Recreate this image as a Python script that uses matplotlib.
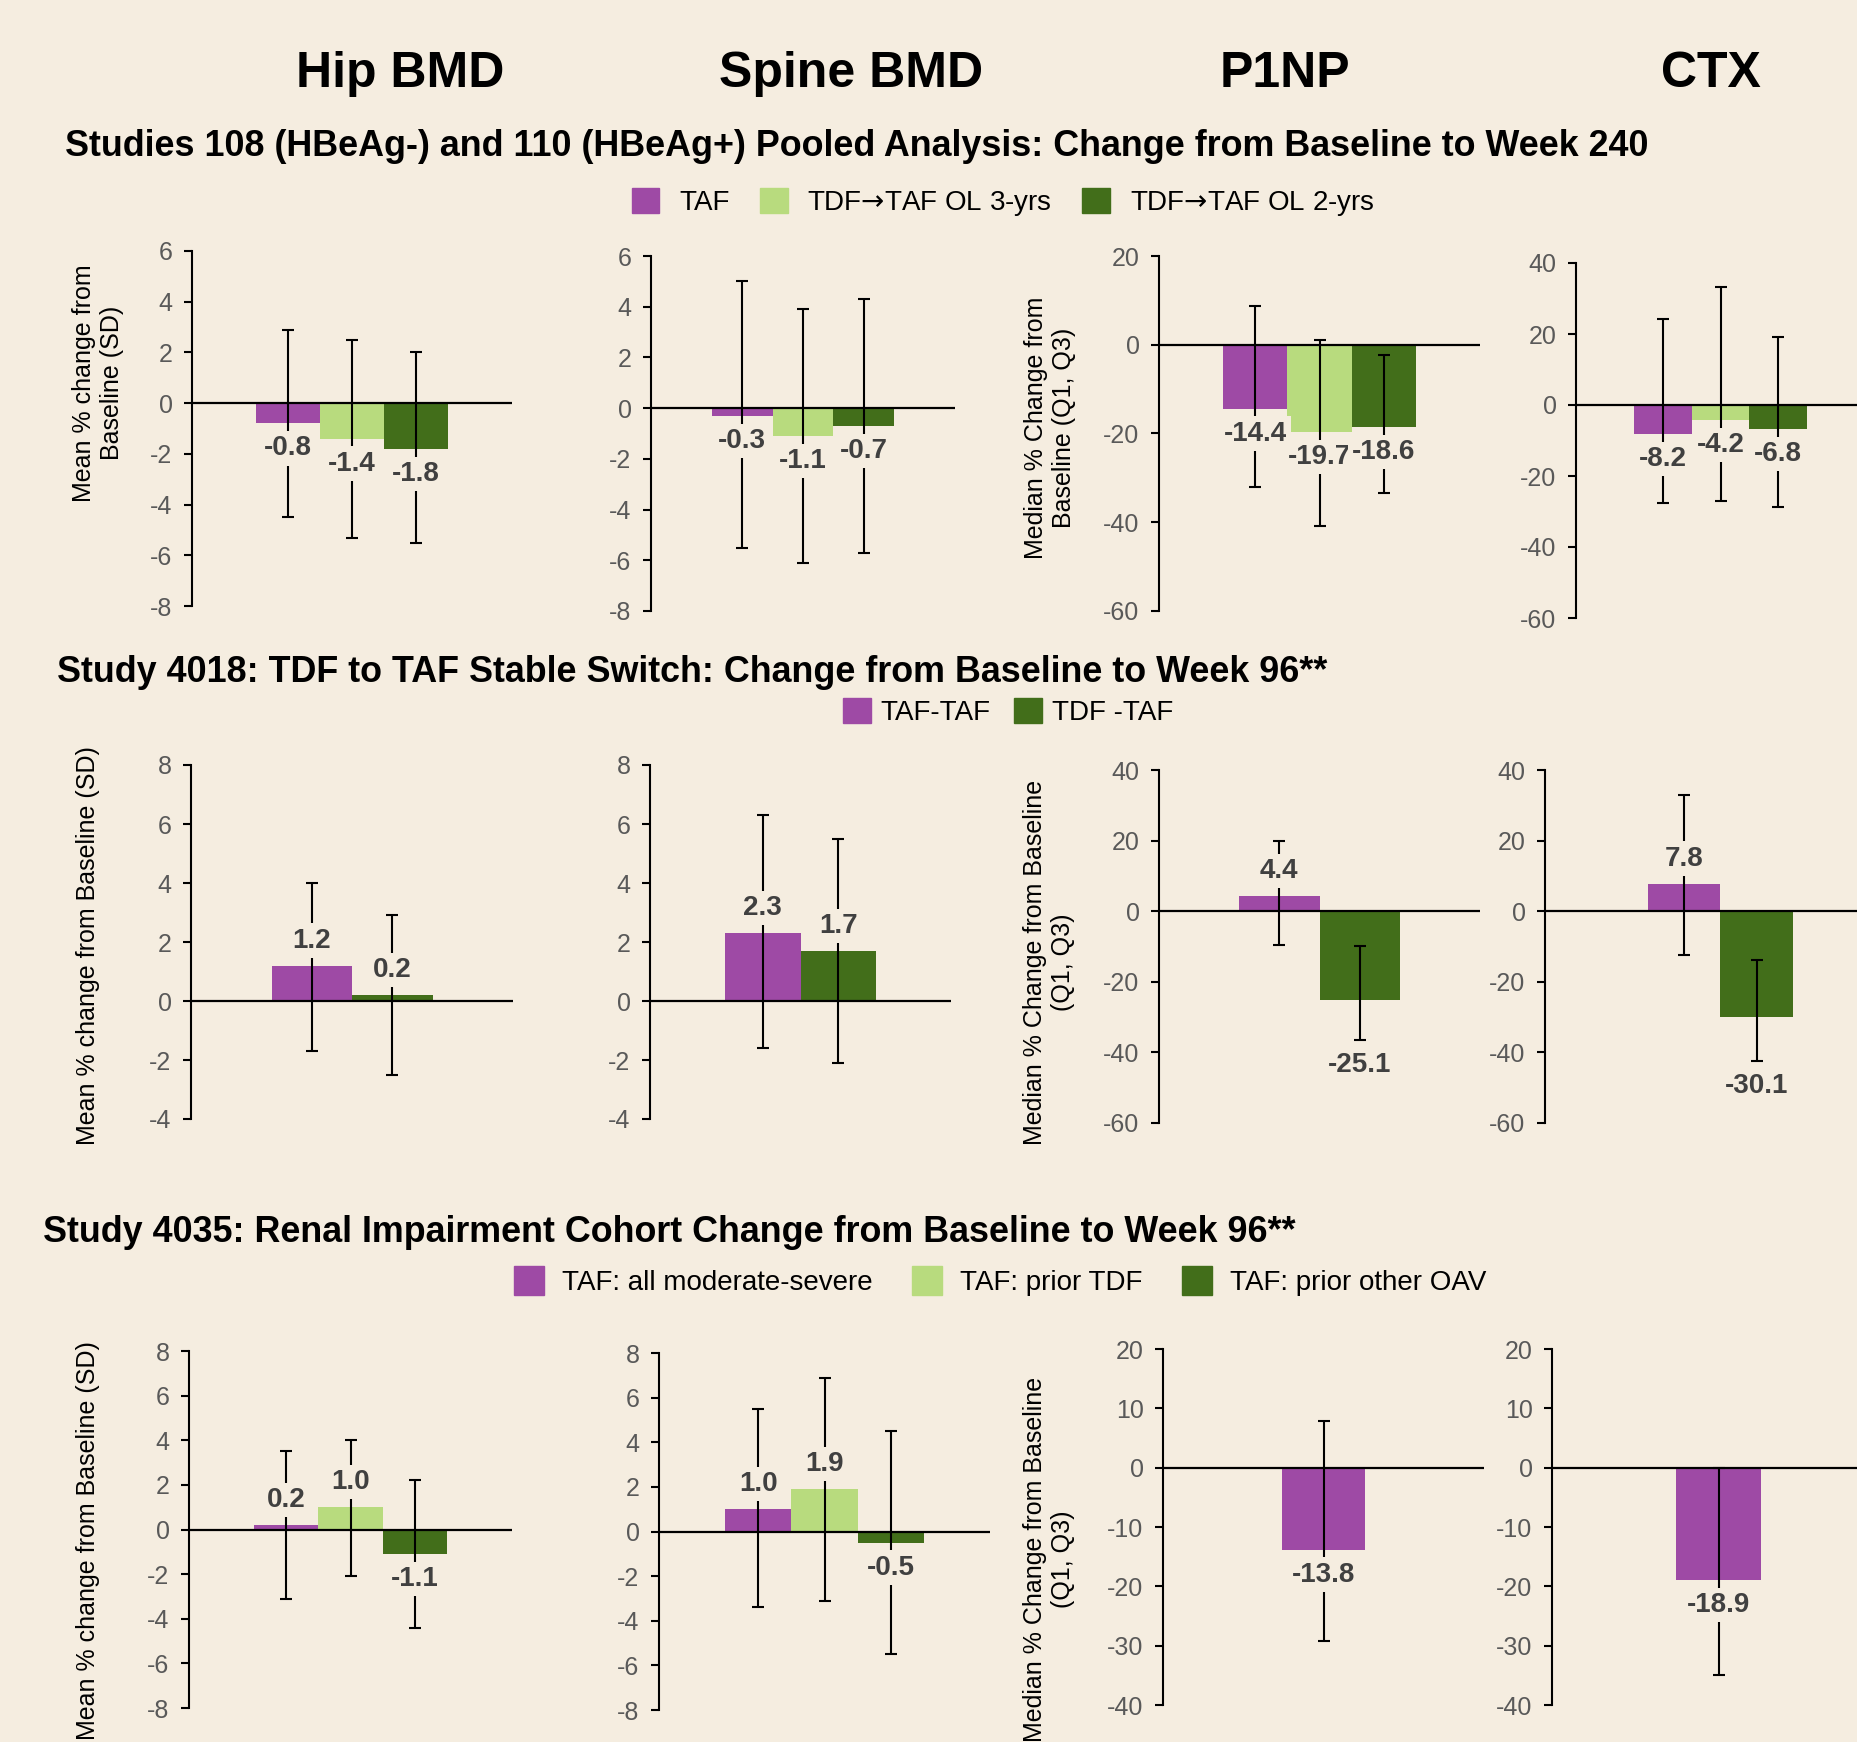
import numpy as np
import matplotlib.pyplot as plt
from matplotlib.patches import Patch

plt.rcParams['font.family'] = ['Liberation Sans', 'DejaVu Sans']
plt.rcParams['axes.unicode_minus'] = False
plt.rcParams['mathtext.fontset'] = 'dejavusans'

W, H = 1857, 1742
bg = '#F5EDE0'
purple = '#9E4AA5'
light = '#B8DB7E'
dark = '#426E1A'

headers = ['Hip BMD', 'Spine BMD', 'P1NP', 'CTX']
titles = ['Studies 108 (HBeAg-) and 110 (HBeAg+) Pooled Analysis: Change from Baseline to Week 240',
          'Study 4018: TDF to TAF Stable Switch: Change from Baseline to Week 96**',
          'Study 4035: Renal Impairment Cohort Change from Baseline to Week 96**']

# row 1: studies 108/110, week 240
groups1 = ['TAF', 'TDF$\u2192$TAF OL 3-yrs', 'TDF$\u2192$TAF OL 2-yrs']
hip1 = [-0.8, -1.4, -1.8]
hip1_lo = [-4.5, -5.3, -5.5]
hip1_hi = [2.9, 2.5, 2.0]
spine1 = [-0.3, -1.1, -0.7]
spine1_lo = [-5.5, -6.1, -5.7]
spine1_hi = [5.0, 3.9, 4.3]
p1np1 = [-14.4, -19.7, -18.6]
p1np1_lo = [-32.0, -40.8, -33.3]
p1np1_hi = [8.8, 1.1, -2.3]
ctx1 = [-8.2, -4.2, -6.8]
ctx1_lo = [-27.7, -27.0, -28.7]
ctx1_hi = [24.3, 33.2, 19.1]

# row 2: study 4018, week 96
groups2 = ['TAF-TAF', 'TDF -TAF']
hip2 = [1.2, 0.2]
hip2_lo = [-1.7, -2.5]
hip2_hi = [4.0, 2.9]
spine2 = [2.3, 1.7]
spine2_lo = [-1.6, -2.1]
spine2_hi = [6.3, 5.5]
p1np2 = [4.4, -25.1]
p1np2_lo = [-9.6, -36.4]
p1np2_hi = [19.8, -9.8]
ctx2 = [7.8, -30.1]
ctx2_lo = [-12.4, -42.5]
ctx2_hi = [32.8, -13.7]

# row 3: study 4035, week 96
groups3 = ['TAF: all moderate-severe', 'TAF: prior TDF', 'TAF: prior other OAV']
hip3 = [0.2, 1.0, -1.1]
hip3_lo = [-3.1, -2.1, -4.4]
hip3_hi = [3.5, 4.0, 2.2]
spine3 = [1.0, 1.9, -0.5]
spine3_lo = [-3.4, -3.1, -5.5]
spine3_hi = [5.5, 6.9, 4.5]
p1np3 = [-13.8]
p1np3_lo = [-29.2]
p1np3_hi = [7.9]
ctx3 = [-18.9]
ctx3_lo = [-34.9]
ctx3_hi = [0.0]

ticks_bmd1 = [-8, -6, -4, -2, 0, 2, 4, 6]
ticks_p1np1 = [-60, -40, -20, 0, 20]
ticks_ctx1 = [-60, -40, -20, 0, 20, 40]
ticks_bmd2 = [-4, -2, 0, 2, 4, 6, 8]
ticks_bio2 = [-60, -40, -20, 0, 20, 40]
ticks_bmd3 = [-8, -6, -4, -2, 0, 2, 4, 6, 8]
ticks_bio3 = [-40, -30, -20, -10, 0, 10, 20]

fig = plt.figure(figsize=(W / 100, H / 100), dpi=100)
fig.patch.set_facecolor(bg)


def fx(x):
    return x / W


def fy(y):
    return 1 - y / H


def panel(rect, xlim, vals, lo, hi, cols, ticks, below_err=False):
    x0, x1, yt, yb = rect
    ax = fig.add_axes([fx(x0), fy(yb), (x1 - x0) / W, (yb - yt) / H])
    ax.set_facecolor('none')
    v = np.array(vals)
    lo = np.array(lo)
    hi = np.array(hi)
    xs = np.arange(len(v)) - (len(v) - 1) / 2
    ax.bar(xs, v, width=1.0, color=cols[:len(v)], zorder=2)
    ax.axhline(0, color='black', lw=1.6, zorder=3)
    ax.errorbar(xs, v, yerr=[v - lo, hi - v], fmt='none', ecolor='black',
                elinewidth=1.5, capsize=4, capthick=1.5, zorder=4)
    for x, val, l in zip(xs, v, lo):
        anchor = l if (below_err and val < 0) else val
        dy = 18 if val >= 0 else -18
        ax.annotate(f'{val:.1f}', (x, anchor), xytext=(0, dy), textcoords='offset points',
                    ha='center', va='center', fontsize=20, fontweight='bold', color='#404040',
                    bbox=dict(boxstyle='square,pad=0.15', fc=bg, ec='none'), zorder=5)
    ax.set_xlim(xlim)
    ax.set_ylim(ticks[0], ticks[-1])
    ax.set_yticks(ticks)
    ax.set_xticks([])
    for s in ['top', 'right', 'bottom']:
        ax.spines[s].set_visible(False)
    ax.spines['left'].set_linewidth(1.5)
    ax.tick_params(axis='y', direction='out', length=6, width=1.5, labelsize=18,
                   labelcolor='#595959', pad=8)
    return ax


c3 = [purple, light, dark]
c2 = [purple, dark]

# row 1
panel((192, 512, 251, 606), (-2.5, 2.5), hip1, hip1_lo, hip1_hi, c3, ticks_bmd1)
panel((651, 955, 256, 611), (-2.5, 2.5), spine1, spine1_lo, spine1_hi, c3, ticks_bmd1)
panel((1159, 1480, 256, 611), (-2.5, 2.5), p1np1, p1np1_lo, p1np1_hi, c3, ticks_p1np1)
panel((1576, 1865, 263, 618), (-2.5, 2.5), ctx1, ctx1_lo, ctx1_hi, c3, ticks_ctx1)

# row 2
panel((191, 513, 765, 1119), (-2, 2), hip2, hip2_lo, hip2_hi, c2, ticks_bmd2)
panel((650, 951, 765, 1119), (-2, 2), spine2, spine2_lo, spine2_hi, c2, ticks_bmd2)
panel((1159, 1480, 770, 1123), (-2, 2), p1np2, p1np2_lo, p1np2_hi, c2, ticks_bio2, below_err=True)
panel((1545, 1857, 770, 1123), (-2.41, 1.88), ctx2, ctx2_lo, ctx2_hi, c2, ticks_bio2, below_err=True)

# row 3
panel((189, 512, 1351, 1708), (-2.5, 2.5), hip3, hip3_lo, hip3_hi, c3, ticks_bmd3)
panel((659, 990, 1353, 1710), (-2.5, 2.5), spine3, spine3_lo, spine3_hi, c3, ticks_bmd3)
panel((1163, 1484, 1349, 1705), (-1.92, 1.92), p1np3, p1np3_lo, p1np3_hi, c3, ticks_bio3)
panel((1552, 1857, 1349, 1705), (-1.96, 1.63), ctx3, ctx3_lo, ctx3_hi, c3, ticks_bio3)

# column headers
for name, x in zip(headers, [400, 851, 1285, 1711]):
    fig.text(fx(x), fy(74), name, ha='center', va='center', fontsize=36, fontweight='bold')

# section titles
for t, x, y in zip(titles, [65, 57, 43], [146, 673, 1233]):
    fig.text(fx(x), fy(y), t, ha='left', va='center', fontsize=25.8, fontweight='bold')

# y labels
ylab = dict(rotation=90, ha='center', va='center', fontsize=18, multialignment='center')
fig.text(fx(98), fy(383), 'Mean % change from\nBaseline (SD)', **ylab)
fig.text(fx(1050), fy(428), 'Median % Change from\nBaseline (Q1, Q3)', **ylab)
fig.text(fx(88), fy(946), 'Mean % change from Baseline (SD)', **ylab)
fig.text(fx(1049), fy(962), 'Median % Change from Baseline\n(Q1, Q3)', **ylab)
fig.text(fx(88), fy(1541), 'Mean % change from Baseline (SD)', **ylab)
fig.text(fx(1049), fy(1559), 'Median % Change from Baseline\n(Q1, Q3)', **ylab)

# legends
fig.legend(handles=[Patch(color=c, label=g) for c, g in zip(c3, groups1)],
           loc='center', bbox_to_anchor=(fx(1003), fy(203)), ncol=3, frameon=False,
           fontsize=20, handlelength=1.0, handleheight=1.0, handletextpad=0.7,
           columnspacing=1.1)
fig.legend(handles=[Patch(color=c, label=g) for c, g in zip(c2, groups2)],
           loc='center', bbox_to_anchor=(fx(1008), fy(712)), ncol=2, frameon=False,
           fontsize=20, handlelength=1.0, handleheight=1.0, handletextpad=0.35,
           columnspacing=0.85)
fig.legend(handles=[Patch(color=c, label=g) for c, g in zip(c3, groups3)],
           loc='center', bbox_to_anchor=(fx(1000), fy(1281)), ncol=3, frameon=False,
           fontsize=20, handlelength=1.1, handleheight=1.25, handletextpad=0.65,
           columnspacing=1.4)

fig.savefig('out.png', dpi=100, facecolor=bg)
